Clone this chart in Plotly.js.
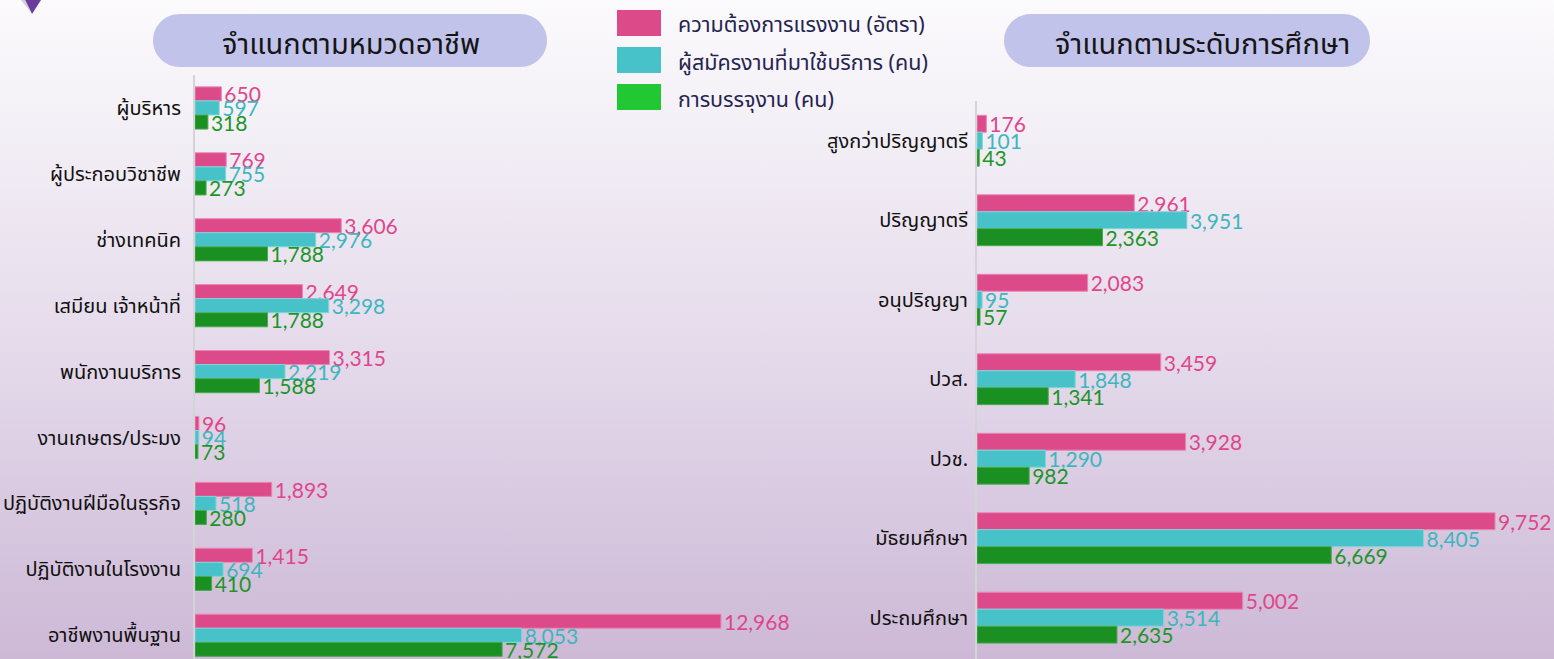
<!DOCTYPE html>
<html>
<head>
<meta charset="utf-8">
<script src="https://cdn.plot.ly/plotly-3.0.1.min.js"></script>
<style>
  html, body { margin:0; padding:0; width:1554px; height:659px; overflow:hidden;
    background: linear-gradient(to bottom, #fbfafc 0%, #f3eff6 20%, #e4d9ea 55%, #d9cae1 75%, #cdb9d6 100%); }
  #chart { width:1554px; height:659px; }
</style>
</head>
<body>
<div id="chart"></div>
<script>
// ---- data ----
const seriesNames = ["ความต้องการแรงงาน (อัตรา)", "ผู้สมัครงานที่มาใช้บริการ (คน)", "การบรรจุงาน (คน)"];

const occCategories = ["ผู้บริหาร", "ผู้ประกอบวิชาชีพ", "ช่างเทคนิค", "เสมียน เจ้าหน้าที่", "พนักงานบริการ",
  "งานเกษตร/ประมง", "ปฏิบัติงานฝีมือในธุรกิจ", "ปฏิบัติงานในโรงงาน", "อาชีพงานพื้นฐาน"];
const occDemand   = [650, 769, 3606, 2649, 3315, 96, 1893, 1415, 12968];
const occApplied  = [597, 755, 2976, 3298, 2219, 94, 518, 694, 8053];
const occPlaced   = [318, 273, 1788, 1788, 1588, 73, 280, 410, 7572];

const eduCategories = ["สูงกว่าปริญญาตรี", "ปริญญาตรี", "อนุปริญญา", "ปวส.", "ปวช.", "มัธยมศึกษา", "ประถมศึกษา"];
const eduDemand   = [176, 2961, 2083, 3459, 3928, 9752, 5002];
const eduApplied  = [101, 3951, 95, 1848, 1290, 8405, 3514];
const eduPlaced   = [43, 2363, 57, 1341, 982, 6669, 2635];

const panelTitles = ["จำแนกตามหมวดอาชีพ", "จำแนกตามระดับการศึกษา"];

// ---- styles ----
const W = 1554, H = 659;
const barColors  = ["#dc4a8a", "#48c2c9", "#1a8f22"];
const lineColors = ["#ec86b4", "#7fd6da", "#4aaa52"];
const textColors = ["#e0468a", "#3db6be", "#1c9628"];
const legendColors = ["#dc4a8a", "#48c2c9", "#22c833"];
const labelFont = "Lato, 'Noto Sans', sans-serif";
const thaiFont = "'Noto Sans', 'Noto Sans Thai', sans-serif";

function fmt(v){ return v.toLocaleString('en-US'); }

function mkTrace(cats, vals, i, xa, ya){
  return {
    type: 'bar', orientation: 'h', y: cats, x: vals, name: seriesNames[i],
    xaxis: xa, yaxis: ya, showlegend: false,
    marker: { color: barColors[i], line: { color: lineColors[i], width: 1 } },
    text: vals.map(fmt), textposition: 'outside', constraintext: 'none',
    textfont: { family: labelFont, size: 21, color: textColors[i] },
    hoverinfo: 'x+y'
  };
}

const data = [
  mkTrace(occCategories, occDemand, 0, 'x', 'y'),
  mkTrace(occCategories, occApplied, 1, 'x', 'y'),
  mkTrace(occCategories, occPlaced, 2, 'x', 'y'),
  mkTrace(eduCategories, eduDemand, 0, 'x2', 'y2'),
  mkTrace(eduCategories, eduApplied, 1, 'x2', 'y2'),
  mkTrace(eduCategories, eduPlaced, 2, 'x2', 'y2')
];

// pixel -> paper helpers
const px = v => v / W;
const py = v => 1 - v / H;

function pillPath(x0, x1, y0, y1){
  const r = (y1 - y0) / 2, k = 0.5523 * r;
  const P = (x, y) => px(x).toFixed(5) + ',' + py(y).toFixed(5);
  let s = 'M' + P(x0 + r, y0) + ' L' + P(x1 - r, y0);
  s += ' C' + P(x1 - r + k, y0) + ' ' + P(x1, y0 + r - k) + ' ' + P(x1, y0 + r);
  s += ' C' + P(x1, y0 + r + k) + ' ' + P(x1 - r + k, y1) + ' ' + P(x1 - r, y1);
  s += ' L' + P(x0 + r, y1);
  s += ' C' + P(x0 + r - k, y1) + ' ' + P(x0, y0 + r + k) + ' ' + P(x0, y0 + r);
  s += ' C' + P(x0, y0 + r - k) + ' ' + P(x0 + r - k, y0) + ' ' + P(x0 + r, y0) + ' Z';
  return s;
}

const shapes = [
  { type: 'path', xref: 'paper', yref: 'paper', path: pillPath(153, 547, 14, 67),
    fillcolor: '#c2c3ea', line: { width: 0 }, layer: 'below' },
  { type: 'path', xref: 'paper', yref: 'paper', path: pillPath(1004, 1370, 14, 67),
    fillcolor: '#c2c3ea', line: { width: 0 }, layer: 'below' },
  { type: 'path', xref: 'paper', yref: 'paper',
    path: 'M' + px(25) + ',' + py(0) + ' L' + px(41) + ',' + py(0) + ' L' + px(32) + ',' + py(14) + ' Z',
    fillcolor: '#6a3d9c', line: { width: 0 } },
  { type: 'path', xref: 'paper', yref: 'paper',
    path: 'M' + px(21) + ',' + py(0) + ' L' + px(25) + ',' + py(0) + ' L' + px(32) + ',' + py(14) + ' Z',
    fillcolor: '#cfcfd6', line: { width: 0 } }
];
const legendRows = [[10, 36], [47, 73], [84, 110]];
legendRows.forEach((r, i) => {
  shapes.push({ type: 'rect', xref: 'paper', yref: 'paper', x0: px(617), x1: px(661), y0: py(r[1]), y1: py(r[0]),
    fillcolor: legendColors[i], line: { width: 0 } });
});

const annotations = [
  { xref: 'paper', yref: 'paper', x: px(351), y: py(42), text: panelTitles[0], showarrow: false,
    xanchor: 'center', yanchor: 'middle', font: { family: thaiFont, size: 29, color: '#151515' } },
  { xref: 'paper', yref: 'paper', x: px(1202), y: py(42), text: panelTitles[1], showarrow: false,
    xanchor: 'center', yanchor: 'middle', font: { family: thaiFont, size: 29, color: '#151515' } }
];
legendRows.forEach((r, i) => {
  annotations.push({ xref: 'paper', yref: 'paper', x: px(676), y: py((r[0] + r[1]) / 2 + 1), text: seriesNames[i],
    showarrow: false, xanchor: 'left', yanchor: 'middle', font: { family: thaiFont, size: 21.5, color: '#262450' } });
});

const layout = {
  width: W, height: H,
  margin: { l: 0, r: 0, t: 0, b: 0, pad: 0 },
  paper_bgcolor: 'rgba(0,0,0,0)', plot_bgcolor: 'rgba(0,0,0,0)',
  barmode: 'group', bargap: 0.36, bargroupgap: 0,
  showlegend: false,
  xaxis: { domain: [px(195), px(830)], range: [0, 635 / 0.04056], visible: false, fixedrange: true },
  yaxis: { domain: [0, py(75)], range: [8.36, -0.5], type: 'category', showgrid: false, zeroline: false,
    showline: true, linecolor: '#d4d4d8', linewidth: 2, ticks: '', ticklabelstandoff: 8,
    tickfont: { family: thaiFont, size: 20, color: '#111' } },
  xaxis2: { domain: [px(977), 1], range: [0, 577 / 0.05312], visible: false, fixedrange: true, anchor: 'y2' },
  yaxis2: { domain: [0, py(101)], range: [6.52, -0.5], type: 'category', anchor: 'x2', showgrid: false, zeroline: false,
    showline: true, linecolor: '#d4d4d8', linewidth: 2, ticks: '', ticklabelstandoff: 3,
    tickfont: { family: thaiFont, size: 20, color: '#111' } },
  shapes: shapes,
  annotations: annotations
};

Plotly.newPlot('chart', data, layout, { displayModeBar: false, staticPlot: true });
</script>
</body>
</html>
